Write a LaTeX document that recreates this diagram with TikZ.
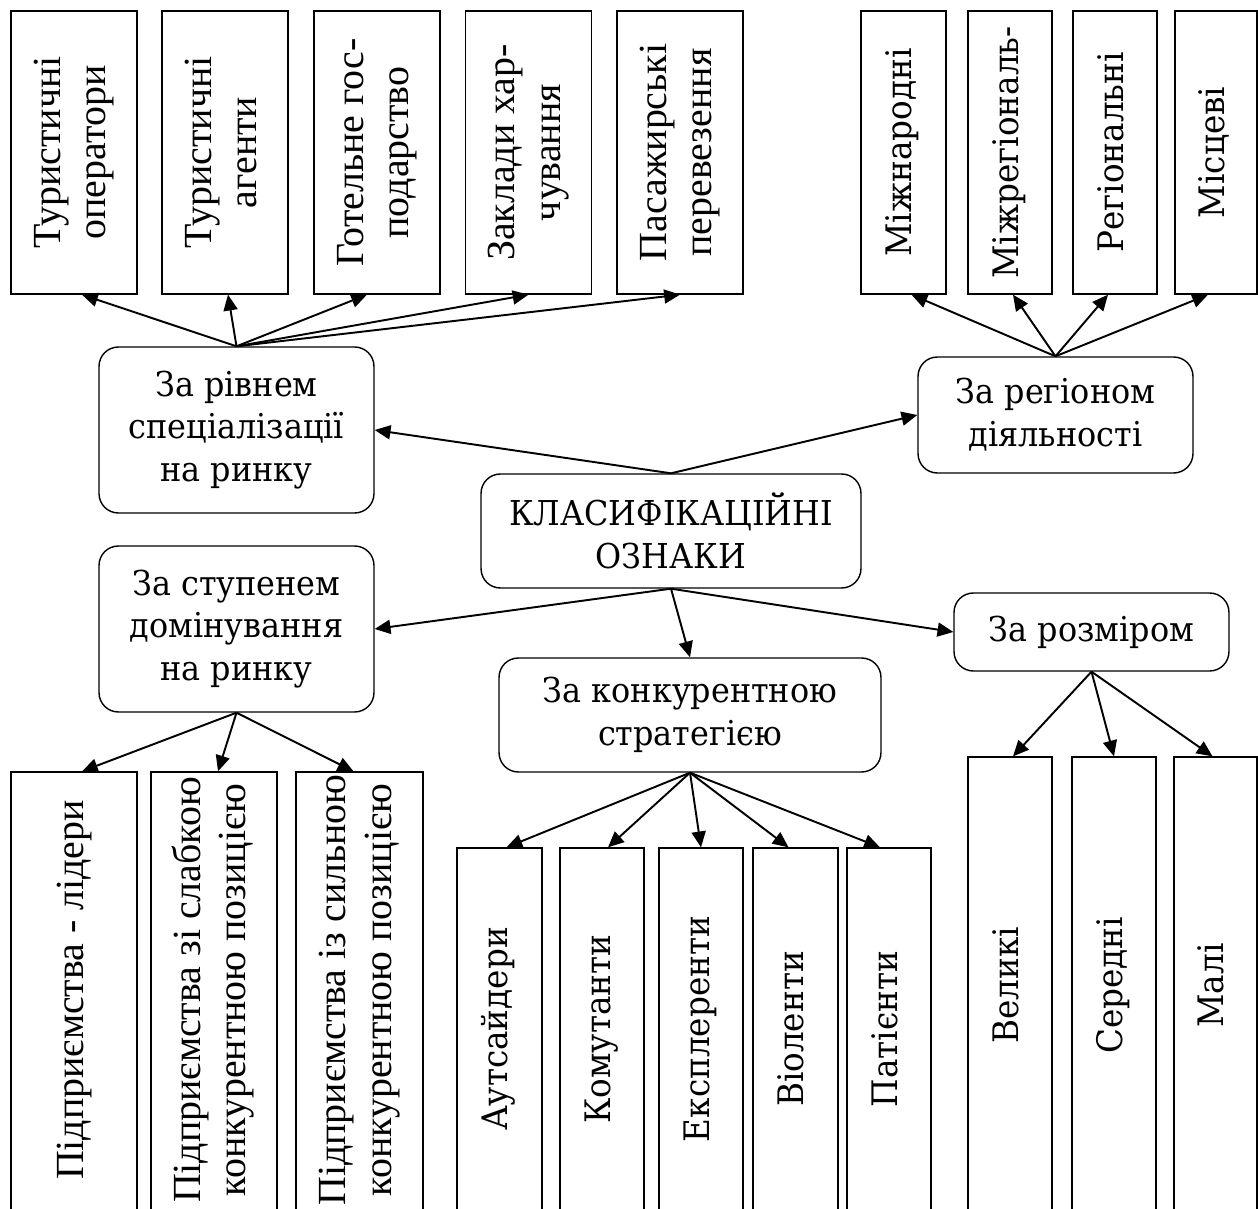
\documentclass[tikz,border=0pt]{standalone}
\usepackage{fontspec}
\setmainfont{Liberation Serif}
\newfontfamily\cmb[FakeStretch=0.93]{DejaVu Serif}
\usepackage{graphicx}
\usetikzlibrary{calc,arrows.meta}
% vertical text, the optional space lifts it up in its box
\newcommand*{\vtxt}[2][0pt]{\rotatebox{90}{\hspace*{#1}\begin{tabular}{@{}c@{}}#2\end{tabular}}}

\tikzset{
  grp/.style={draw,line width=0.8pt,rounded corners=11pt,inner sep=0pt,
    align=center,font=\cmb\fontsize{19.5}{24.4}\selectfont},
  leaf/.style 2 args={draw,line width=0.8pt,inner sep=0pt,
    minimum width=#1,minimum height=#2},
  tms/.style={font=\fontsize{22.7}{26}\selectfont},
  cmbl/.style={font=\cmb\fontsize{20}{24}\selectfont},
  arr/.style={-{Triangle[length=9pt,width=8pt]},line width=1.1pt}
}

\begin{document}
\begin{tikzpicture}[x=0.02cm,y=-0.02cm]
% picture is 1258 x 1209 units, the lower boxes run off the edge
\clip (0,0) rectangle (1258,1209);
% Centre and the five groups
\node[grp,minimum width=7.6cm,minimum height=2.28cm] (kl) at (671,531)
  {КЛАСИФІКАЦІЙНІ\\ОЗНАКИ};
\node[grp,minimum width=5.5cm,minimum height=3.32cm] (spec) at (236.5,430)
  {За рівнем\\спеціалізації\\на ринку};
\node[grp,minimum width=5.5cm,minimum height=2.32cm] (reg) at (1055.5,415)
  {За регіоном\\діяльності};
\node[grp,minimum width=5.5cm,minimum height=3.32cm] (dom) at (236.5,629)
  {За ступенем\\домінування\\на ринку};
\node[grp,minimum width=7.64cm,minimum height=2.28cm] (konk) at (690,715)
  {За конкурентною\\стратегією};
\node[grp,minimum width=5.5cm,minimum height=1.56cm] (size) at (1091.5,632)
  {За розміром};
% Upper left leaves
\node[leaf={2.52cm}{5.66cm},tms] (ta) at (74,152.5) {\vtxt{Туристичні\\оператори}};
\node[leaf={2.52cm}{5.66cm},tms] (tb) at (225,152.5) {\vtxt{Туристичні\\агенти}};
\node[leaf={2.52cm}{5.66cm},tms] (tc) at (377,152.5) {\vtxt{Готельне гос-\\подарство}};
\node[leaf={2.52cm}{5.66cm},tms] (td) at (528.5,152.5) {\vtxt{Заклади хар-\\чування}};
\node[leaf={2.52cm}{5.66cm},tms] (te) at (680,152.5) {\vtxt{Пасажирські\\перевезення}};
% Upper right leaves
\node[leaf={1.7cm}{5.66cm},cmbl] (ra) at (903.5,152.5) {\vtxt{Міжнародні}};
\node[leaf={1.68cm}{5.66cm},cmbl] (rb) at (1010,152.5) {\vtxt{Міжрегіональ-}};
\node[leaf={1.68cm}{5.66cm},cmbl] (rc) at (1115,152.5) {\vtxt{Регіональні}};
\node[leaf={1.64cm}{5.66cm},cmbl] (rd) at (1216,152.5) {\vtxt{Місцеві}};
% Lower left leaves
\node[leaf={2.52cm}{9.16cm},tms] (da) at (74,1001) {\vtxt[0.44cm]{Підприємства - лідери}};
\node[leaf={2.52cm}{9.16cm},tms] (db) at (214,1001)
  {\vtxt[0.44cm]{Підприємства зі слабкою\\конкурентною позицією}};
\node[leaf={2.54cm}{9.16cm},tms] (dc) at (359.5,1001)
  {\vtxt[0.44cm]{Підприємства із сильною\\конкурентною позицією}};
% Lower middle leaves
\node[leaf={1.7cm}{7.64cm},cmbl] (ka) at (499.5,1039) {\vtxt[0.4cm]{Аутсайдери}};
\node[leaf={1.68cm}{7.64cm},cmbl] (kb) at (602,1039) {\vtxt[0.4cm]{Комутанти}};
\node[leaf={1.68cm}{7.64cm},cmbl] (kc) at (701,1039) {\vtxt[0.4cm]{Експлеренти}};
\node[leaf={1.7cm}{7.64cm},cmbl] (kd) at (795.5,1039) {\vtxt[0.4cm]{Віоленти}};
\node[leaf={1.68cm}{7.64cm},cmbl] (ke) at (889,1039) {\vtxt[0.4cm]{Патієнти}};
% Lower right leaves
\node[leaf={1.68cm}{9.46cm},cmbl] (sa) at (1010,993.5) {\vtxt[0.32cm]{Великі}};
\node[leaf={1.68cm}{9.46cm},cmbl] (sb) at (1114,993.5) {\vtxt[0.32cm]{Середні}};
\node[leaf={1.66cm}{9.46cm},cmbl] (sc) at (1215.5,993.5) {\vtxt[0.32cm]{Малі}};
% Arrows from the centre
\draw[arr] (kl.north) -- (spec.east);
\draw[arr] (kl.north) -- (reg.west);
\draw[arr] (kl.south) -- (dom.east);
\draw[arr] (kl.south) -- (konk.north);
\draw[arr] (kl.south) -- (size.west);
% Arrows to the leaves
\draw[arr] (spec.north) -- ($(ta.south)+(8,0)$);
\draw[arr] (spec.north) -- ($(tb.south)+(3,0)$);
\draw[arr] (spec.north) -- ($(tc.south)+(-10,0)$);
\draw[arr] (spec.north) -- (td.south);
\draw[arr] (spec.north) -- (te.south);
\draw[arr] (reg.north) -- ($(ra.south)+(8,0)$);
\draw[arr] (reg.north) -- ($(rb.south)+(3,0)$);
\draw[arr] (reg.north) -- ($(rc.south)+(-7,0)$);
\draw[arr] (reg.north) -- ($(rd.south)+(-8,0)$);
\draw[arr] (dom.south) -- ($(da.north)+(8,0)$);
\draw[arr] (dom.south) -- ($(db.north)+(4,0)$);
\draw[arr] (dom.south) -- ($(dc.north)+(-6,0)$);
\draw[arr] (konk.south) -- ($(ka.north)+(7,0)$);
\draw[arr] (konk.south) -- ($(kb.north)+(6,0)$);
\draw[arr] (konk.south) -- (kc.north);
\draw[arr] (konk.south) -- ($(kd.north)+(-7,0)$);
\draw[arr] (konk.south) -- ($(ke.north)+(-9,0)$);
\draw[arr] (size.south) -- ($(sa.north)+(3,0)$);
\draw[arr] (size.south) -- (sb.north);
\draw[arr] (size.south) -- ($(sc.north)+(-3,0)$);
\end{tikzpicture}
\end{document}
